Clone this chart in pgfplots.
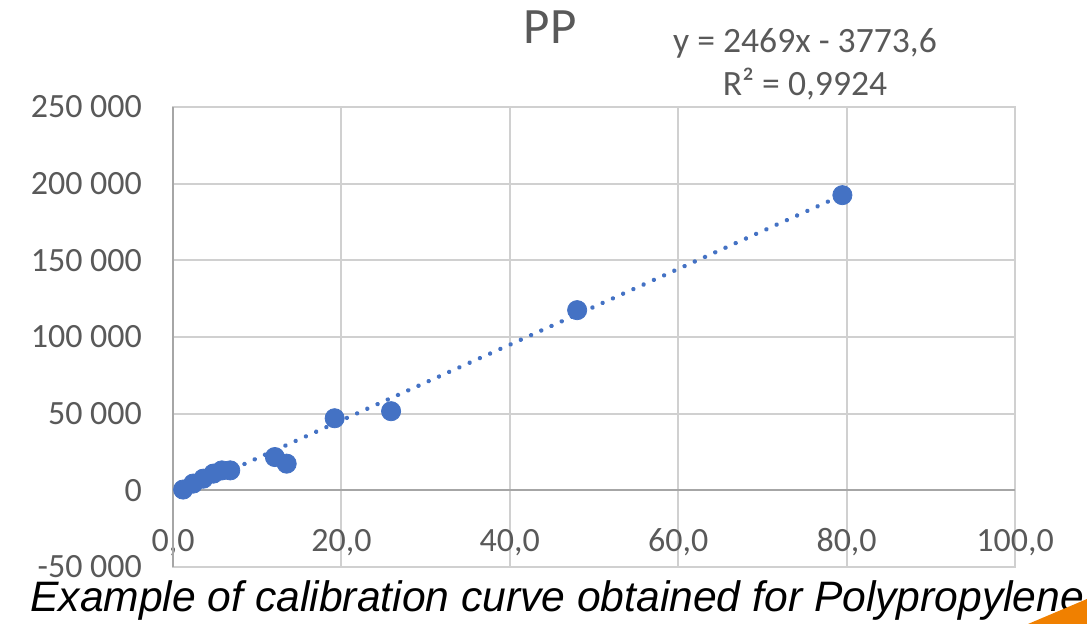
\documentclass[border=0pt]{standalone}
\usepackage{pgfplots}
\pgfplotsset{compat=1.18}
\usepackage{fontspec}
\setmainfont{Carlito}
\newfontfamily\arialfont{Liberation Sans}
\definecolor{txtgray}{RGB}{89,89,89}
\definecolor{gridgray}{RGB}{208,208,208}
\definecolor{xlblue}{RGB}{68,114,196}
\definecolor{orng}{RGB}{240,128,0}
\begin{document}
\begin{tikzpicture}
\useasboundingbox (0,0) rectangle (543.5pt,312pt);
\begin{axis}[
  at={(86.5pt,28.5pt)}, anchor=south west,
  scale only axis, width=421pt, height=230pt,
  xmin=0, xmax=100, ymin=-50000, ymax=250000,
  xtick={0,20,40,60,80,100},
  xticklabels={{0,0},{20,0},{40,0},{60,0},{80,0},{100,0}},
  ytick={-50000,0,50000,100000,150000,200000,250000},
  yticklabels={-50 000,0,50 000,100 000,150 000,200 000,250 000},
  grid=major, major grid style={draw=gridgray, line width=1pt},
  axis line style={draw=gridgray, line width=1pt},
  major tick length=0pt,
  tick label style={font=\fontsize{17}{19}\selectfont, text=txtgray},
  xticklabel style={anchor=base, yshift=7.5pt},
  yticklabel style={anchor=east, xshift=-12pt},
  clip=false,
  scaled ticks=false,
]
\draw[draw=gridgray!80!black, line width=1pt] (axis cs:0,0) -- (axis cs:100,0);
\draw[draw=gridgray!80!black, line width=1pt] (axis cs:0,-50000) -- (axis cs:0,250000);
\addplot[draw=xlblue, line width=2.2pt, line cap=round, dash pattern=on 0.01pt off 5.6pt] coordinates {(1.2,-811) (79.5,192512)};
\addplot[only marks, mark=*, mark size=4.8pt, mark options={fill=xlblue, draw=xlblue}] coordinates {
(1.2,500) (2.4,4400) (3.6,7600) (4.8,10900) (5.8,13000) (6.8,13000)
(12.1,21700) (13.5,17400) (19.2,47000) (25.9,51600) (48.0,117500) (79.5,192500)
};
\end{axis}
\node[text=txtgray, font=\fontsize{25.5}{28}\selectfont] at (275pt,298.5pt) {PP};
\node[text=txtgray, font=\fontsize{17.8}{19}\selectfont] at (402.5pt,290.5pt) {y = 2469x - 3773,6};
\node[text=txtgray, font=\fontsize{17.8}{19}\selectfont] at (402.5pt,270pt) {R² = 0,9924};
\node[anchor=base west, inner sep=0pt, font=\arialfont\itshape\fontsize{21.3}{24}\selectfont] at (15pt,6pt) {Example of calibration curve obtained for Polypropylene};
\fill[orng] (514pt,0pt) -- (543.5pt,0pt) -- (543.5pt,12.5pt) -- cycle;
\end{tikzpicture}
\end{document}
